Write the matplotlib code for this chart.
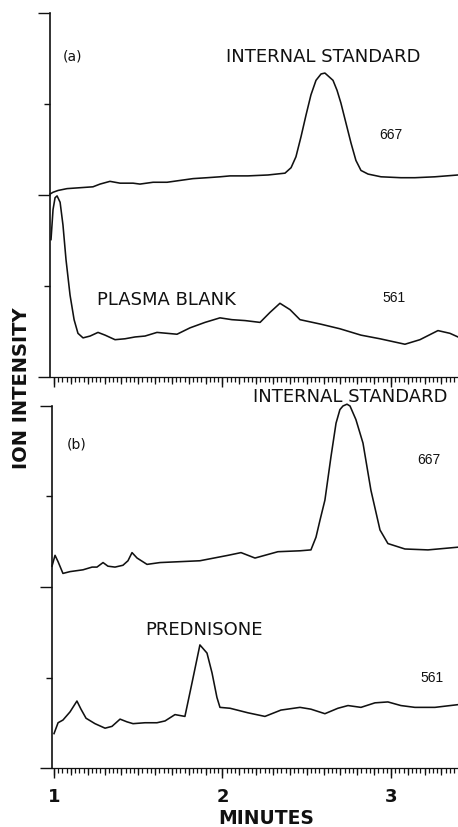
import matplotlib
matplotlib.use('Agg')
import matplotlib.pyplot as plt
from matplotlib.ticker import MultipleLocator, FixedLocator, NullFormatter

# (a) internal standard, m/z 667  (minutes, intensity)
a667_t = [0.976, 0.994, 1.024, 1.077, 1.154, 1.231, 1.273, 1.332, 1.392, 1.469, 1.510, 1.588,
          1.671, 1.748, 1.825, 1.908, 1.985, 2.045, 2.151, 2.270, 2.371, 2.407, 2.436, 2.466,
          2.496, 2.525, 2.555, 2.585, 2.608, 2.626, 2.656, 2.680, 2.703, 2.733, 2.763, 2.792,
          2.822, 2.864, 2.941, 3.059, 3.142, 3.261, 3.398]
a667_y = [2.01, 2.03, 2.05, 2.07, 2.08, 2.09, 2.12, 2.15, 2.13, 2.13, 2.12, 2.14,
          2.14, 2.16, 2.18, 2.19, 2.20, 2.21, 2.21, 2.22, 2.24, 2.30, 2.42, 2.64,
          2.88, 3.10, 3.26, 3.33, 3.34, 3.31, 3.26, 3.15, 3.01, 2.79, 2.57, 2.38,
          2.27, 2.23, 2.20, 2.19, 2.19, 2.20, 2.22]

# (a) plasma blank, m/z 561
a561_t = [0.982, 0.994, 1.006, 1.018, 1.036, 1.053, 1.071, 1.095, 1.119, 1.142, 1.172, 1.214,
          1.261, 1.303, 1.362, 1.421, 1.481, 1.540, 1.611, 1.671, 1.730, 1.807, 1.896, 1.985,
          2.056, 2.134, 2.223, 2.282, 2.341, 2.401, 2.460, 2.585, 2.697, 2.822, 2.935, 3.083,
          3.172, 3.279, 3.350, 3.398]
a561_y = [1.51, 1.84, 1.97, 1.99, 1.92, 1.67, 1.29, 0.90, 0.63, 0.48, 0.43, 0.45,
          0.49, 0.46, 0.41, 0.42, 0.44, 0.45, 0.49, 0.48, 0.47, 0.54, 0.60, 0.65,
          0.63, 0.62, 0.60, 0.71, 0.81, 0.74, 0.63, 0.58, 0.53, 0.46, 0.42, 0.36,
          0.41, 0.51, 0.48, 0.44]

# (b) internal standard, m/z 667
b667_t = [0.988, 1.006, 1.024, 1.053, 1.095, 1.172, 1.226, 1.255, 1.291, 1.320, 1.362, 1.409,
          1.439, 1.463, 1.493, 1.552, 1.629, 1.748, 1.866, 2.033, 2.110, 2.193, 2.329, 2.460,
          2.525, 2.555, 2.579, 2.608, 2.644, 2.674, 2.697, 2.715, 2.739, 2.757, 2.792, 2.834,
          2.881, 2.935, 2.982, 3.083, 3.220, 3.398]
b667_y = [2.23, 2.35, 2.28, 2.15, 2.17, 2.19, 2.22, 2.22, 2.27, 2.23, 2.22, 2.24,
          2.29, 2.38, 2.32, 2.25, 2.27, 2.28, 2.29, 2.35, 2.38, 2.32, 2.39, 2.40,
          2.41, 2.55, 2.74, 2.96, 3.44, 3.81, 3.96, 4.00, 4.02, 4.00, 3.85, 3.59,
          3.07, 2.63, 2.48, 2.42, 2.41, 2.44]

# (b) prednisone, m/z 561
b561_t = [1.000, 1.024, 1.053, 1.095, 1.136, 1.160, 1.190, 1.243, 1.303, 1.344, 1.392, 1.433,
          1.469, 1.540, 1.611, 1.659, 1.718, 1.777, 1.819, 1.866, 1.908, 1.938, 1.967, 1.985,
          2.045, 2.151, 2.252, 2.347, 2.460, 2.525, 2.608, 2.685, 2.745, 2.822, 2.905, 2.982,
          3.059, 3.142, 3.261, 3.398]
b561_y = [0.38, 0.50, 0.53, 0.62, 0.74, 0.65, 0.55, 0.49, 0.44, 0.46, 0.54, 0.51,
          0.49, 0.50, 0.50, 0.52, 0.59, 0.57, 0.94, 1.36, 1.27, 1.05, 0.78, 0.67,
          0.66, 0.61, 0.57, 0.64, 0.67, 0.65, 0.60, 0.66, 0.69, 0.67, 0.72, 0.73,
          0.69, 0.67, 0.67, 0.70]

W, H = 458, 827
fig = plt.figure(figsize=(W / 100, H / 100), dpi=100)
fig.patch.set_facecolor('white')

ink = '#111111'


def panel(rect, xmin):
    ax = fig.add_axes(rect)
    ax.set_xlim(xmin, 3.398)
    ax.set_ylim(0, 4)
    for s in ['top', 'right']:
        ax.spines[s].set_visible(False)
    ax.spines['left'].set_linewidth(1.2)
    ax.spines['bottom'].set_linewidth(0.9)
    ax.spines['left'].set_color(ink)
    ax.spines['bottom'].set_color(ink)
    ax.yaxis.set_major_locator(FixedLocator([0, 2, 4]))
    ax.yaxis.set_minor_locator(FixedLocator([1, 3]))
    ax.yaxis.set_minor_formatter(NullFormatter())
    ax.tick_params(axis='y', which='major', length=8.5, width=1.0, color=ink, labelleft=False)
    ax.tick_params(axis='y', which='minor', length=4.5, width=1.0, color=ink)
    ax.xaxis.set_major_locator(FixedLocator([1, 2, 3]))
    ax.xaxis.set_minor_locator(MultipleLocator(0.025))
    ax.xaxis.set_minor_formatter(NullFormatter())
    ax.tick_params(axis='x', which='major', length=7, width=1.0, color=ink, pad=7.5,
                   labelsize=13, labelcolor=ink)
    ax.tick_params(axis='x', which='minor', length=3.5, width=0.9, color=ink)
    # medium ticks every 0.1 min on a second bottom axis
    sec = ax.secondary_xaxis('bottom')
    sec.spines['bottom'].set_visible(False)
    sec.xaxis.set_major_locator(MultipleLocator(0.1))
    sec.xaxis.set_major_formatter(NullFormatter())
    sec.tick_params(axis='x', which='major', length=5, width=0.9, color=ink)
    sec.xaxis.set_minor_locator(FixedLocator([]))
    return ax


ax1 = panel([50 / W, 1 - 377 / H, 1 - 50 / W, 364 / H], 0.976)
ax2 = panel([52 / W, 1 - 768 / H, 1 - 52 / W, 362 / H], 0.988)
ax1.tick_params(axis='x', labelbottom=False)
ax2.set_xticklabels(['1', '2', '3'])
for lab in ax2.get_xticklabels():
    lab.set_fontweight('bold')

ax1.plot(a667_t, a667_y, color=ink, lw=1.15, clip_on=False)
ax1.plot(a561_t, a561_y, color=ink, lw=1.15, clip_on=False)
ax2.plot(b667_t, b667_y, color=ink, lw=1.15, clip_on=False)
ax2.plot(b561_t, b561_y, color=ink, lw=1.15, clip_on=False)

lbl = dict(color=ink, fontsize=13, va='center')
num = dict(color=ink, fontsize=10, va='center', ha='center', family='Liberation Sans')

ax1.text(1.107, 3.52, '(a)', color=ink, fontsize=10, va='center', ha='center')
ax1.text(2.02, 3.52, 'INTERNAL STANDARD', ha='left', **lbl)
ax1.text(3.00, 2.66, '667', **num)
ax1.text(1.255, 0.85, 'PLASMA BLANK', ha='left', **lbl)
ax1.text(3.02, 0.87, '561', **num)

ax2.text(1.137, 3.57, '(b)', color=ink, fontsize=10, va='center', ha='center')
ax2.text(2.18, 4.10, 'INTERNAL STANDARD', ha='left', clip_on=False, **lbl)
ax2.text(3.225, 3.40, '667', **num)
ax2.text(1.54, 1.52, 'PREDNISONE', ha='left', **lbl)
ax2.text(3.243, 1.00, '561', **num)

fig.text(22 / W, 1 - 388 / H, 'ION INTENSITY', rotation=90, fontsize=14, fontweight='bold',
         color=ink, ha='center', va='center')
fig.text(266 / W, 1 - 818 / H, 'MINUTES', fontsize=13.5, fontweight='bold',
         color=ink, ha='center', va='center')

fig.savefig('out.png', dpi=100, facecolor='white')
